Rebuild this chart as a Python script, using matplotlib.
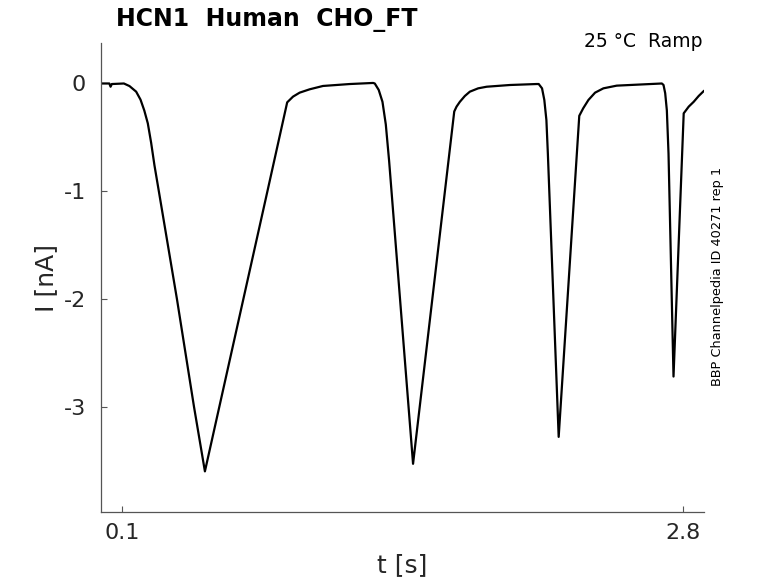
import matplotlib
matplotlib.use("Agg")
import matplotlib.pyplot as plt

# ramp-protocol current trace
t_s = [0.0, 0.040, 0.046, 0.052, 0.110, 0.137, 0.169, 0.190, 0.208, 0.225,
       0.241, 0.257, 0.278, 0.365, 0.447, 0.4995,
       0.800, 0.895, 0.923, 0.955, 1.003, 1.067, 1.196, 1.308,
       1.316, 1.335, 1.353, 1.369, 1.385, 1.500,
       1.698, 1.709, 1.725, 1.749, 1.773, 1.813, 1.854, 1.966, 2.094,
       2.104, 2.120, 2.131, 2.141, 2.148, 2.200,
       2.299, 2.318, 2.343, 2.375, 2.415, 2.479, 2.576, 2.696,
       2.704, 2.712, 2.720, 2.728, 2.752,
       2.801, 2.825, 2.849, 2.873, 2.899]
i_nA = [0.0, 0.0, -0.03, -0.005, 0.0, -0.024, -0.076, -0.15, -0.25, -0.37,
        -0.55, -0.76, -1.0, -2.0, -3.0, -3.60,
        -1.0, -0.175, -0.122, -0.085, -0.054, -0.023, -0.005, 0.005,
        0.0, -0.06, -0.17, -0.38, -0.72, -3.53,
        -0.26, -0.215, -0.17, -0.116, -0.076, -0.045, -0.03, -0.014, -0.005,
        -0.005, -0.045, -0.153, -0.34, -0.65, -3.28,
        -0.30, -0.23, -0.153, -0.085, -0.045, -0.02, -0.011, 0.0,
        -0.014, -0.09, -0.25, -0.65, -2.72,
        -0.277, -0.215, -0.17, -0.116, -0.067]

x_ticks = [0.1, 2.8]
x_tick_labels = ["0.1", "2.8"]
y_ticks = [0, -1, -2, -3]
y_tick_labels = ["0", "-1", "-2", "-3"]

title = "HCN1  Human  CHO_FT"
cond = "25 °C  Ramp"
side = "BBP Channelpedia ID 40271 rep 1"

W, H = 778, 583
fig = plt.figure(figsize=(W / 100, H / 100), dpi=100)
ax = fig.add_axes([101 / W, 1 - 512.3 / H, (704.3 - 101) / W, (512.3 - 43.3) / H])

ax.plot(t_s, i_nA, color="black", lw=1.6, solid_joinstyle="round",
        solid_capstyle="round")

ax.set_xlim(0.0, 2.9)
ax.set_ylim(-3.98, 0.373)
ax.set_xticks(x_ticks)
ax.set_xticklabels(x_tick_labels)
ax.set_yticks(y_ticks)
ax.set_yticklabels(y_tick_labels)

for s in ["top", "right"]:
    ax.spines[s].set_visible(False)
for s in ["left", "bottom"]:
    ax.spines[s].set_color("#555555")
    ax.spines[s].set_linewidth(0.9)

ax.tick_params(axis="both", direction="in", length=4.3, width=0.8,
               color="#555555", labelsize=16, labelcolor="#262626")
ax.tick_params(axis="y", pad=11)
ax.tick_params(axis="x", pad=8)

ax.set_xlabel("t [s]", fontsize=18, color="#262626", labelpad=7)
ax.set_ylabel("I [nA]", fontsize=18, color="#262626", labelpad=4)

fig.text(116 / W, 1 - 26 / H, title, fontsize=17, fontweight="bold",
         ha="left", va="baseline", color="black")
fig.text(702.7 / W, 1 - 46.7 / H, cond, fontsize=13.5, ha="right",
         va="baseline", color="black")
fig.text(717 / W, 1 - 276 / H, side, fontsize=9.3, rotation=90,
         ha="center", va="center", color="black")

fig.savefig("out.png", dpi=100)
